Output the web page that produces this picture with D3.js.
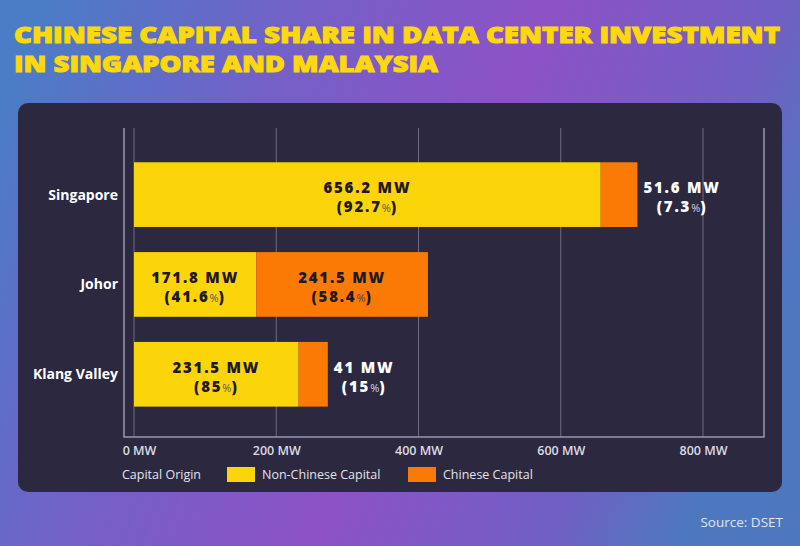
<!DOCTYPE html>
<html lang="en">
<head>
    <meta charset="UTF-8">
    <title>Chinese Capital Share in Data Center Investment</title>
    <script src="https://d3js.org/d3.v7.min.js"></script>
    <style>
        body {
            margin: 0;
            padding: 0;
            background: #2b2840;
        }
        svg {
            display: block;
        }
        text {
            font-family: "Open Sans", "Liberation Sans", sans-serif;
        }
    </style>
</head>
<body>
<svg></svg>
<script>
    // data
    const categories = ["Singapore", "Johor", "Klang Valley"];
    const nonChinese = [656.2, 171.8, 231.5];
    const chinese = [51.6, 241.5, 41];
    const nonChinesePct = ["92.7", "41.6", "85"];
    const chinesePct = ["7.3", "58.4", "15"];
    const tickValues = [0, 200, 400, 600, 800];
    const seriesNames = ["Non-Chinese Capital", "Chinese Capital"];

    const W = 800, H = 546;
    const colors = {yellow: "#fcd40a", orange: "#fb7a05", panel: "#2b2840"};

    const svg = d3.select("svg").attr("width", W).attr("height", H);

    // background gradient
    const defs = svg.append("defs");
    const grad = defs.append("linearGradient")
        .attr("id", "bg")
        .attr("x1", "0").attr("y1", "0.2")
        .attr("x2", "1").attr("y2", "0.5");
    grad.append("stop").attr("offset", "0%").attr("stop-color", "#4b7cc6");
    grad.append("stop").attr("offset", "30%").attr("stop-color", "#7460c6");
    grad.append("stop").attr("offset", "58%").attr("stop-color", "#8d52c6");
    grad.append("stop").attr("offset", "85%").attr("stop-color", "#7060c2");
    grad.append("stop").attr("offset", "100%").attr("stop-color", "#4d78c0");
    svg.append("rect").attr("width", W).attr("height", H).attr("fill", "url(#bg)");

    // title
    const title = svg.append("g")
        .attr("fill", "#fcd80c")
        .attr("stroke", "#fcd80c")
        .attr("stroke-width", 1)
        .attr("font-weight", 900)
        .style("font-family", "Inter, Roboto, sans-serif")
        .attr("font-size", "23px");
    title.append("text").attr("x", 14).attr("y", 43)
        .attr("textLength", 766).attr("lengthAdjust", "spacingAndGlyphs")
        .text("CHINESE CAPITAL SHARE IN DATA CENTER INVESTMENT");
    title.append("text").attr("x", 14).attr("y", 72)
        .attr("textLength", 424).attr("lengthAdjust", "spacingAndGlyphs")
        .text("IN SINGAPORE AND MALAYSIA");

    // panel
    svg.append("rect")
        .attr("x", 18).attr("y", 103)
        .attr("width", 764).attr("height", 389)
        .attr("rx", 10)
        .attr("fill", colors.panel);

    // scales
    const plot = {left: 124, right: 764, top: 128, bottom: 437};
    const x = d3.scaleLinear()
        .domain([0, 800])
        .range([134, 703]);
    const y = d3.scaleBand()
        .domain(categories)
        .range([plot.top, plot.bottom])
        .paddingInner(0.28)
        .paddingOuter(0.36)
        .align(0.53);

    // gridlines
    svg.append("g")
        .selectAll("line")
        .data(tickValues)
        .join("line")
        .attr("x1", d => x(d)).attr("x2", d => x(d))
        .attr("y1", plot.top).attr("y2", plot.bottom)
        .attr("stroke", "#8a889c")
        .attr("stroke-opacity", 0.7)
        .attr("stroke-width", 1);

    // frame (left, bottom, right)
    svg.append("path")
        .attr("d", `M${plot.left},${plot.top}V${plot.bottom}H${plot.right}V${plot.top}`)
        .attr("fill", "none")
        .attr("stroke", "#9a98aa")
        .attr("stroke-width", 1.5);

    // x axis
    const xAxis = svg.append("g")
        .attr("transform", `translate(0,${plot.bottom})`)
        .call(d3.axisBottom(x)
            .tickValues(tickValues)
            .tickFormat(d => d + " MW")
            .tickSize(0)
            .tickPadding(9));
    xAxis.select(".domain").remove();
    xAxis.selectAll("text")
        .attr("fill", "#dcdbe4")
        .attr("font-size", "12.5px")
        .attr("font-weight", 600)
        .attr("dx", d => d === 0 ? 5 : 0)
        .style("font-family", "\"Open Sans\", sans-serif");

    // category labels
    svg.append("g")
        .selectAll("text")
        .data(categories)
        .join("text")
        .attr("x", 118)
        .attr("y", d => y(d) + y.bandwidth() / 2 + 5)
        .attr("text-anchor", "end")
        .attr("fill", "#ffffff")
        .attr("font-size", "14px")
        .attr("font-weight", 700)
        .text(d => d);

    // bars
    const rows = categories.map((c, i) => ({
        key: c,
        a: nonChinese[i],
        b: chinese[i],
        aPct: nonChinesePct[i],
        bPct: chinesePct[i]
    }));

    const barG = svg.append("g");
    barG.selectAll(".bar-a")
        .data(rows)
        .join("rect")
        .attr("class", "bar-a")
        .attr("x", x(0))
        .attr("y", d => y(d.key))
        .attr("width", d => x(d.a) - x(0))
        .attr("height", y.bandwidth())
        .attr("fill", colors.yellow);
    barG.selectAll(".bar-b")
        .data(rows)
        .join("rect")
        .attr("class", "bar-b")
        .attr("x", d => x(d.a))
        .attr("y", d => y(d.key))
        .attr("width", d => x(d.a + d.b) - x(d.a))
        .attr("height", y.bandwidth())
        .attr("fill", colors.orange);

    // value labels
    function addLabel(g, cx, cy, mw, pct, fill, pctFill, anchor) {
        const t = g.append("g")
            .attr("fill", fill)
            .attr("font-weight", 800)
            .attr("font-size", "15px")
            .attr("letter-spacing", "1.8px")
            .style("font-family", "\"DejaVu Sans\", sans-serif");
        const l1 = t.append("text")
            .attr("x", cx).attr("y", cy - 1.5)
            .attr("text-anchor", anchor)
            .text(mw + " MW");
        const l2 = t.append("text")
            .attr("x", cx).attr("y", cy + 17.5)
            .attr("text-anchor", anchor);
        l2.append("tspan").text("(" + pct);
        l2.append("tspan")
            .attr("font-size", "11px")
            .attr("font-weight", 400)
            .attr("letter-spacing", "0px")
            .attr("fill", pctFill)
            .text("%");
        l2.append("tspan").text(")");
        return {t, l1, l2};
    }

    const labelG = svg.append("g");
    rows.forEach(d => {
        const cy = y(d.key) + y.bandwidth() / 2;
        // non-chinese segment, always inside
        addLabel(labelG, (x(0) + x(d.a)) / 2, cy, d.a, d.aPct, "#1e1a22", "#5a5450", "middle");
        const segW = x(d.a + d.b) - x(d.a);
        if (segW > 100) {
            addLabel(labelG, (x(d.a) + x(d.a + d.b)) / 2, cy, d.b, d.bPct, "#1e1a22", "#5a4030", "middle");
        } else {
            const lab = addLabel(labelG, 0, cy, d.b, d.bPct, "#ffffff", "#d8d8e0", "middle");
            const w1 = lab.l1.node().getComputedTextLength();
            const cx = x(d.a + d.b) + 6 + w1 / 2;
            lab.l1.attr("x", cx);
            lab.l2.attr("x", cx);
        }
    });

    // legend
    const legend = svg.append("g").attr("font-size", "12.5px").attr("fill", "#e4e3ea");
    legend.append("text").attr("x", 122).attr("y", 479).text("Capital Origin");
    const legendItems = [
        {name: seriesNames[0], color: colors.yellow, x: 227},
        {name: seriesNames[1], color: colors.orange, x: 408}
    ];
    legendItems.forEach(it => {
        legend.append("rect")
            .attr("x", it.x).attr("y", 467)
            .attr("width", 28).attr("height", 15)
            .attr("fill", it.color);
        legend.append("text")
            .attr("x", it.x + 35).attr("y", 479)
            .text(it.name);
    });

    // source
    svg.append("text")
        .attr("x", 783).attr("y", 527)
        .attr("text-anchor", "end")
        .attr("fill", "#e2e2f0")
        .attr("font-size", "13.5px")
        .text("Source: DSET");
</script>
</body>
</html>
